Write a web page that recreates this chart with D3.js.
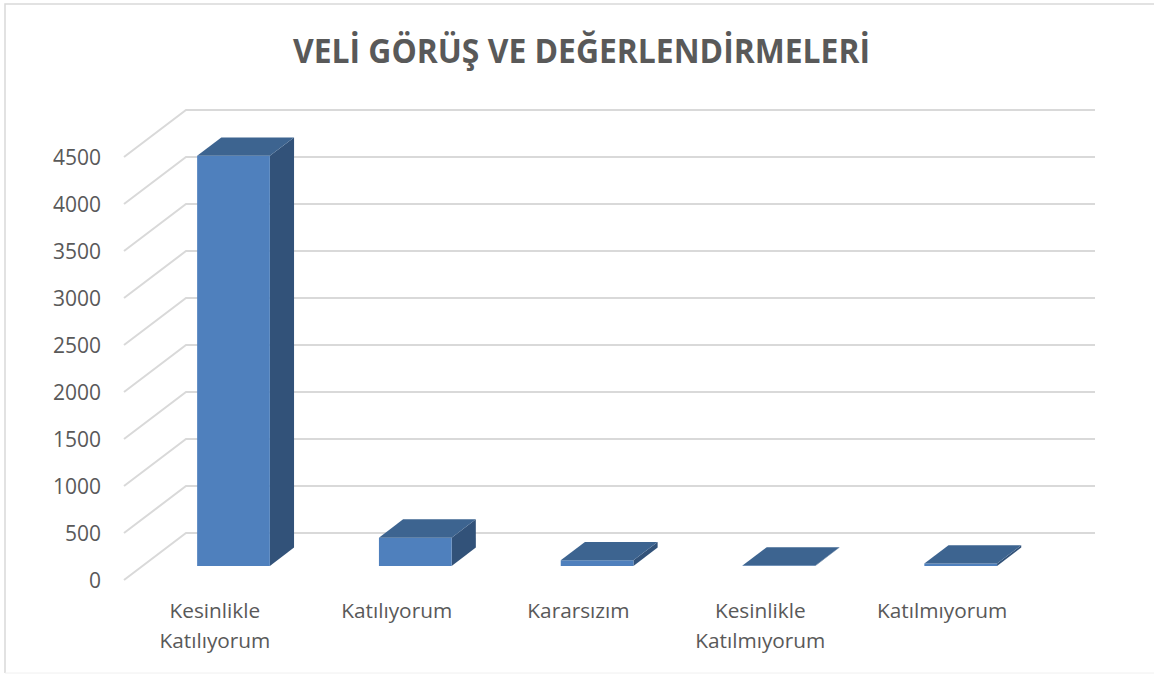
<!DOCTYPE html>
<html lang="tr">
<head>
<meta charset="utf-8">
<title>Veli Görüş ve Değerlendirmeleri</title>
<script src="https://cdn.jsdelivr.net/npm/d3@7"></script>
<style>
    html, body { margin: 0; padding: 0; background: #fff; }
    svg { display: block; }
    text { font-family: "Open Sans", sans-serif; fill: #595959; }
</style>
</head>
<body>
<div id="chart"></div>
<script>
var chartTitle = "VELİ GÖRÜŞ VE DEĞERLENDİRMELERİ";
var categories = ["Kesinlikle Katılıyorum", "Katılıyorum", "Kararsızım", "Kesinlikle Katılmıyorum", "Katılmıyorum"];
var values = [4362, 300, 60, 3, 25];
var tickValues = [0, 500, 1000, 1500, 2000, 2500, 3000, 3500, 4000, 4500];

function init () {

    var w = 1154;
    var h = 675;

    // front edge of the floor, the back wall sits depth px behind it
    var left = 124;
    var right = 1033;
    var bottom = 580;
    var top = 157;
    var depthX = 62;
    var depthY = 47;

    var xScale = d3.scaleBand()
                .domain(categories)
                .range([left, right])
                .paddingInner(0.6)
                .paddingOuter(0.3);

    var yScale = d3.scaleLinear()
                .domain([0, 4500])
                .range([bottom, top]);

    // 0 = front of the floor, 1 = back wall
    var zx = d3.scaleLinear().domain([0, 1]).range([0, depthX]);
    var zy = d3.scaleLinear().domain([0, 1]).range([0, depthY]);
    var barFront = 0.3;
    var barBack = 0.69;

    var svg = d3.select("#chart")
                .append("svg")
                .attr("width", w)
                .attr("height", h);

    // chart frame, only the top and left edges show in the picture
    svg.append("path")
        .attr("d", "M5,673V4H1154")
        .attr("fill", "none")
        .attr("stroke", "#d9d9d9")
        .attr("stroke-width", 1.5);
    svg.append("path")
        .attr("d", "M5,673H1154")
        .attr("fill", "none")
        .attr("stroke", "#f0f0f0")
        .attr("stroke-width", 1);

    // Open Sans runs wider than the original font, so squeeze it to the same width
    svg.append("text")
        .attr("x", 581.5)
        .attr("y", 62.5)
        .attr("text-anchor", "middle")
        .attr("font-size", 34)
        .attr("font-weight", 700)
        .attr("textLength", 577)
        .attr("lengthAdjust", "spacingAndGlyphs")
        .text(chartTitle);

    var line = d3.line();

    svg.append("g")
        .selectAll("path")
        .data(tickValues)
        .enter()
        .append("path")
        .attr("d", function(d) {
            var y = yScale(d);
            return line([[left, y], [left + zx(1), y - zy(1)], [right + zx(1), y - zy(1)]]);
        })
        .attr("fill", "none")
        .attr("stroke", "#d9d9d9")
        .attr("stroke-width", 2);

    svg.append("g")
        .selectAll("text")
        .data(tickValues)
        .enter()
        .append("text")
        .attr("x", 101)
        .attr("y", function(d) { return yScale(d); })
        .attr("dy", "0.36em")
        .attr("text-anchor", "end")
        .attr("font-size", 21)
        .text(function(d) { return d; });

    var bars = svg.append("g")
                .selectAll("g")
                .data(categories)
                .enter()
                .append("g");

    function corner(i, v, z) {
        return [xScale(categories[i]) + zx(z), yScale(v) - zy(z)];
    }
    function cornerR(i, v, z) {
        return [xScale(categories[i]) + xScale.bandwidth() + zx(z), yScale(v) - zy(z)];
    }

    // right side
    bars.append("path")
        .attr("d", function(d, i) {
            return line([cornerR(i, 0, barFront), cornerR(i, 0, barBack), cornerR(i, values[i], barBack), cornerR(i, values[i], barFront)]) + "Z";
        })
        .attr("fill", "#325279");

    // front face
    bars.append("path")
        .attr("d", function(d, i) {
            return line([corner(i, 0, barFront), cornerR(i, 0, barFront), cornerR(i, values[i], barFront), corner(i, values[i], barFront)]) + "Z";
        })
        .attr("fill", "#4f80bd");

    // top
    bars.append("path")
        .attr("d", function(d, i) {
            return line([corner(i, values[i], barFront), cornerR(i, values[i], barFront), cornerR(i, values[i], barBack), corner(i, values[i], barBack)]) + "Z";
        })
        .attr("fill", "#3d6490");

    var labels = svg.append("g")
                .selectAll("text")
                .data(categories)
                .enter()
                .append("text")
                .attr("text-anchor", "middle")
                .attr("font-size", 20.8)
                .attr("y", 618);

    labels.selectAll("tspan")
        .data(function(d) {
            var c = xScale(d) + xScale.bandwidth() / 2;
            return d.split(" ").map(function(s) { return { s: s, c: c }; });
        })
        .enter()
        .append("tspan")
        .attr("x", function(d) { return d.c; })
        .attr("dy", function(d, i) { return i ? 30 : 0; })
        .text(function(d) { return d.s; });
}
window.onload = init;
</script>
</body>
</html>
